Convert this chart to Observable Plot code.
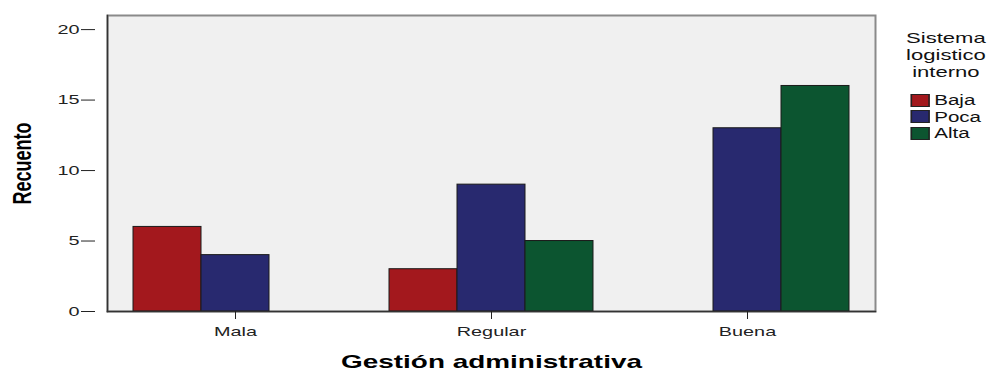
<!DOCTYPE html>
<html>
<head>
<meta charset="utf-8">
<script src="https://cdn.jsdelivr.net/npm/d3@7"></script>
<script src="https://cdn.jsdelivr.net/npm/@observablehq/plot@0.6"></script>
<style>
  html, body { margin: 0; padding: 0; background: #fff; }
  #wrap { position: relative; width: 996px; height: 372px; overflow: hidden; }
  #legend { position: absolute; left: 893px; top: 29px; width: 72px;
    font-family: "Liberation Sans", Arial, sans-serif; color: #111;
    transform: scaleX(1.47); transform-origin: 0 0; }
  #legend .ttl { text-align: center; font-size: 15px; line-height: 17px; }
  #legend .item { display: flex; align-items: center; margin-left: 12px; height: 16.5px; font-size: 14px; }
  #legend .sw { width: 13px; height: 13px; border: 1px solid #222; box-sizing: border-box; margin-right: 3px; }
  #legend .items { margin-top: 12px; }
</style>
</head>
<body>
<div id="wrap"></div>
<script>
const groups = ["Mala", "Regular", "Buena"];
const series = ["Baja", "Poca", "Alta"];
const seriesColors = ["#a3181d", "#28296f", "#0c5530"];
const baja = [6, 3, 0];
const poca = [4, 9, 13];
const alta = [0, 5, 16];
const yTicks = [0, 5, 10, 15, 20];
const xTitle = "Gestión administrativa";
const yTitle = "Recuento";
const legendTitle = ["Sistema", "logistico", "interno"];

const valuesBySeries = {Baja: baja, Poca: poca, Alta: alta};
const data = groups.flatMap((g, i) =>
  series.map(s => ({group: g, serie: s, value: valuesBySeries[s][i]}))
).filter(d => d.value > 0);

const W = 996, H = 372, mL = 95, mR = 109, mT = 15, mB = 61;
const fxPadOuter = 0.046875;
const facetStep = (W - mL - mR) / (groups.length + 2 * fxPadOuter);
const facetOffset = fxPadOuter * facetStep;

const plot = Plot.plot({
  width: W,
  height: H,
  marginLeft: mL,
  marginRight: mR,
  marginTop: mT,
  marginBottom: mB,
  style: {fontFamily: "'Liberation Sans', Arial, sans-serif", color: "#222", background: "transparent"},
  fx: {domain: groups, paddingInner: 0, paddingOuter: fxPadOuter},
  x: {domain: series, paddingInner: 0, paddingOuter: 0.38235, axis: null},
  y: {domain: [0, 21]},
  color: {domain: series, range: seriesColors},
  marks: [
    Plot.frame({facet: "super", fill: "#f0f0f0", stroke: "#8a8a8a", strokeWidth: 2}),
    Plot.barY(data, {fx: "group", x: "serie", y: "value", fill: "serie", stroke: "#1a1a1a", strokeWidth: 1}),
    Plot.frame({facet: "super", anchor: "bottom", stroke: "#333", strokeWidth: 1.5}),
    Plot.frame({facet: "super", anchor: "left", stroke: "#333", strokeWidth: 1.5}),
    Plot.axisY({ticks: yTicks, tickSize: 14, tickPadding: 2, fontSize: 13.5, dx: -facetOffset,
      label: yTitle, labelArrow: "none", labelAnchor: "center", labelOffset: 95}),
    Plot.axisFx({anchor: "bottom", tickSize: 8, tickPadding: 7, fontSize: 13.5,
      label: xTitle, labelAnchor: "center", labelOffset: 56})
  ]
});

document.getElementById("wrap").appendChild(plot);

// bold axis titles
const styleLabel = (sel, size) => plot.querySelectorAll(`${sel}, ${sel} text`).forEach(el => {
  el.setAttribute("font-weight", "bold");
  el.setAttribute("fill", "#000");
  el.setAttribute("font-size", size);
});
styleLabel('[aria-label="y-axis label"]', 18);
styleLabel('[aria-label="fx-axis label"]', 19);
plot.querySelectorAll('[aria-label="y-axis label"] text').forEach(t => { t.textContent = yTitle; });

// the reference picture is horizontally stretched: widen text the same way
const S = 1.47;
plot.querySelectorAll("text").forEach(t => {
  const tr = t.getAttribute("transform") || "";
  if (tr.includes("rotate")) t.setAttribute("transform", tr.replace("rotate", `scale(${S},1) rotate`));
  else t.setAttribute("transform", (tr + ` scale(${S},1)`).trim());
});

// legend
const legend = document.createElement("div");
legend.id = "legend";
legend.innerHTML = `<div class="ttl">${legendTitle.join("<br>")}</div><div class="items">` +
  series.map((s, i) => `<div class="item"><span class="sw" style="background:${seriesColors[i]}"></span>${s}</div>`).join("") +
  `</div>`;
document.getElementById("wrap").appendChild(legend);
</script>
</body>
</html>
